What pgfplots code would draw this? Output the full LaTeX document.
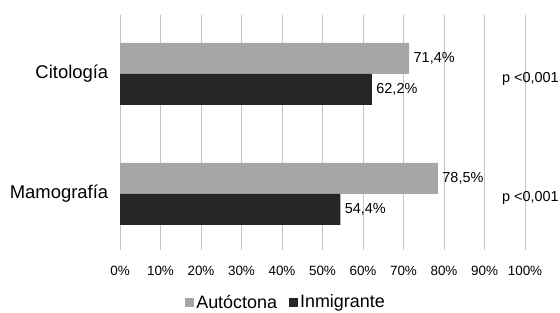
\documentclass[border=0pt]{standalone}
\usepackage{pgfplots}
\pgfplotsset{compat=1.18}
\usepackage{fontspec}
\setmainfont{Liberation Sans}
\definecolor{autoc}{HTML}{A6A6A6}
\definecolor{inmig}{HTML}{262626}
\definecolor{gridc}{HTML}{C4C4C4}
\begin{document}
\begin{tikzpicture}
\useasboundingbox (0,0) rectangle (560bp,313bp);
\begin{axis}[
  at={(120bp,63bp)}, anchor=south west,
  scale only axis, width=405bp, height=235bp,
  clip=false,
  xbar, bar width=31bp,
  xmin=0, xmax=100, ymin=-0.467, ymax=1.49,
  xtick={0,10,...,100},
  xticklabels={0\%,10\%,20\%,30\%,40\%,50\%,60\%,70\%,80\%,90\%,100\%},
  ytick={0,1}, yticklabels={Mamografía,Citología},
  /pgf/number format/assume math mode=true,
  xmajorgrids, major grid style={gridc, line width=1bp},
  axis line style={draw=none}, tick style={draw=none},
  xticklabel style={font=\fontsize{13.5}{14}\selectfont, yshift=-13bp},
  yticklabel style={font=\fontsize{18.5}{20}\selectfont, xshift=-4bp},
  point meta=x,
  nodes near coords={\pgfmathprintnumber[use comma,fixed,precision=1,fixed zerofill]{\pgfplotspointmeta}\%},
  every node near coord/.append style={font=\fontsize{14.5}{16}\selectfont, black, xshift=1bp},
  legend style={at={(axis description cs:0.41,-0.222)}, anchor=center, draw=none,
    font=\fontsize{18}{20}\selectfont, legend columns=2, inner sep=1bp,
    /tikz/every even column/.append style={column sep=10bp}},
  legend image code/.code={\path[#1,draw=none] (0bp,-4.5bp) rectangle (9bp,4.5bp);},
]
\addplot[fill=autoc, draw=none, bar shift=15.5bp] coordinates {(78.5,0) (71.4,1)};
\addplot[fill=inmig, draw=none, bar shift=-15.5bp] coordinates {(54.4,0) (62.2,1)};
\legend{Autóctona, Inmigrante}
\node[anchor=west, inner sep=0pt, yshift=-5bp, font=\fontsize{14.5}{16}\selectfont] at (axis cs:94.3,1) {p <0,001};
\node[anchor=west, inner sep=0pt, yshift=-4bp, font=\fontsize{14.5}{16}\selectfont] at (axis cs:94.3,0) {p <0,001};
\end{axis}
\end{tikzpicture}
\end{document}
